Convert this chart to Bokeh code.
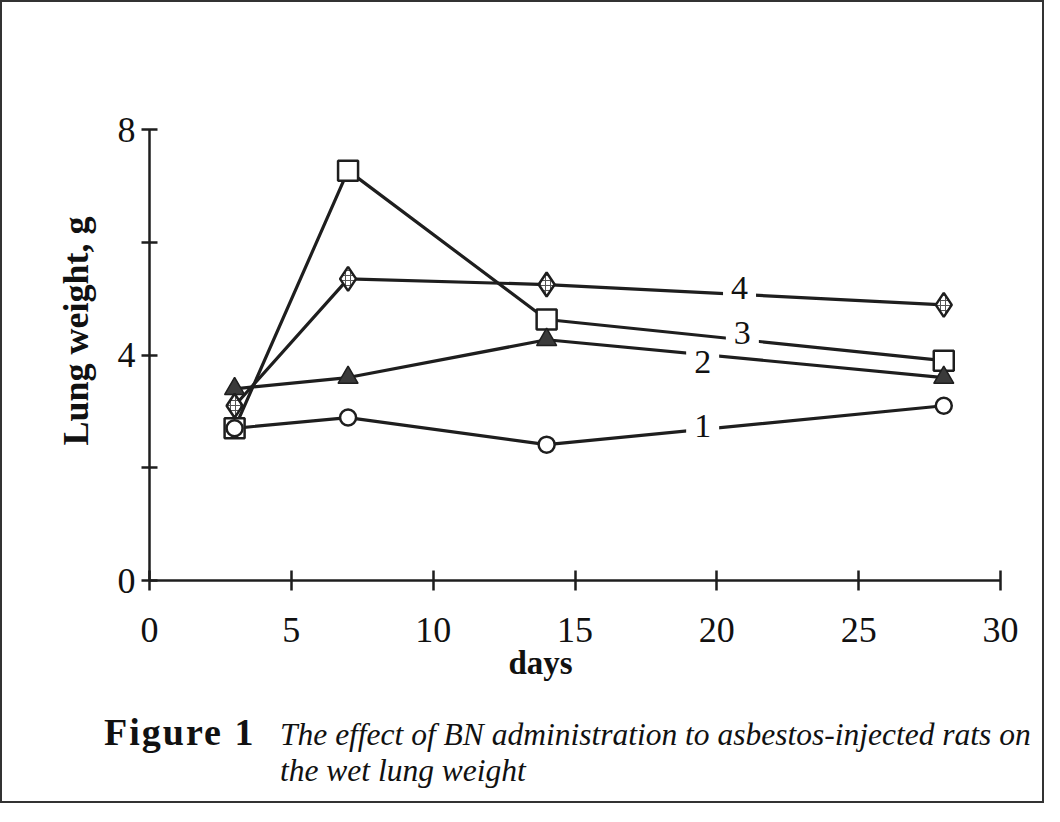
import numpy as np
from bokeh.plotting import figure
from bokeh.models import Range1d, Title, Div
from bokeh.layouts import column
from bokeh.core.properties import value
from bokeh.embed import file_html
from bokeh.resources import INLINE

# ---- data ----
days = [3, 7, 14, 28]
s1_circle = [2.70, 2.89, 2.41, 3.10]
s2_triangle = [3.40, 3.60, 4.27, 3.60]
s3_square = [2.70, 7.27, 4.63, 3.90]
s4_diamond = [3.10, 5.35, 5.25, 4.89]
series_names = ["1", "2", "3", "4"]
label_days = [19.5, 19.5, 20.9, 20.8]
label_nudge_px = [-3, 7, -7, -6]

x_ticks = [0, 5, 10, 15, 20, 25, 30]
y_ticks = [0, 2, 4, 6, 8]
y_tick_labels = {0: "0", 2: "", 4: "4", 6: "", 8: "8"}

x_title = "days"
y_title = "Lung weight, g"
caption_head = "Figure 1"
caption_lines = ["The effect of BN administration to asbestos-injected rats on",
                 "the wet lung weight"]

SERIF = "Liberation Serif"
INK = "#1e1e1e"

p = figure(width=1040, height=703, x_range=Range1d(0, 30), y_range=Range1d(0, 8),
           output_backend="svg", toolbar_location=None,
           min_border_left=147, min_border_right=42, min_border_top=127, min_border_bottom=125)
p.grid.visible = False
p.outline_line_color = None
p.background_fill_color = "white"
p.border_fill_color = "white"

for ax in (p.xaxis, p.yaxis):
    ax.axis_line_width = 2.5
    ax.axis_line_color = INK
    ax.major_tick_line_width = 2.5
    ax.major_tick_line_color = INK
    ax.minor_tick_line_color = None
    ax.major_label_text_font = SERIF
    ax.major_label_text_font_size = "36px"
    ax.major_label_text_color = "#111"

p.xaxis.ticker = x_ticks
p.xaxis.major_tick_in = 10
p.xaxis.major_tick_out = 10
p.xaxis.major_label_standoff = 27

p.yaxis.ticker = y_ticks
p.yaxis.major_label_overrides = y_tick_labels
p.yaxis.major_tick_in = 8
p.yaxis.major_tick_out = 8
p.yaxis.major_label_standoff = 6

all_series = [s1_circle, s2_triangle, s3_square, s4_diamond]
for ys in all_series:
    p.line(days, ys, line_color=INK, line_width=3.2)

# numbered labels breaking the lines
lx, ly, lt = [], [], []
for name, d, ys in zip(series_names, label_days, all_series):
    lx.append(d)
    ly.append(float(np.interp(d, days, ys)))
    lt.append(name)
p.text(x=lx, y=ly, text=lt, y_offset=label_nudge_px, text_font=value(SERIF),
       text_font_size="34px", text_align="center", text_baseline="middle", text_color="#111",
       background_fill_color="white", padding=8)

p.scatter(days, s3_square, marker="square", size=20, fill_color="white",
          line_color=INK, line_width=2.5)
p.scatter(days, s1_circle, marker="circle", size=16, fill_color="white",
          line_color=INK, line_width=2.5)
p.scatter(days, s2_triangle, marker="triangle", size=20, fill_color="#3a3a3a",
          line_color=INK, line_width=1.5)
p.scatter(days, s4_diamond, marker="diamond", size=24, fill_color="white",
          line_color=INK, line_width=2.5, hatch_pattern="cross", hatch_scale=5,
          hatch_color="#555", hatch_weight=1)

# axis titles as plot titles placed beside the axes
tx = Title(text=x_title, align="left", offset=359, vertical_align="top",
           text_font=SERIF, text_font_style="bold", text_font_size="33px", text_color="#111")
tx.standoff = 0
p.add_layout(tx, "below")

ty = Title(text=y_title, align="left", offset=135, vertical_align="bottom", standoff=38,
           text_font=SERIF, text_font_style="bold", text_font_size="36px", text_color="#111")
p.add_layout(ty, "left")

# caption
cap_html = (
    '<div style="position:relative;width:1040px;height:96px;font-family:\'Liberation Serif\',serif;color:#111;">'
    '<span style="position:absolute;left:102px;top:9px;font-weight:bold;font-size:38px;'
    'line-height:36px;letter-spacing:2px;white-space:nowrap;">' + caption_head + '</span>'
    '<span style="position:absolute;left:278px;top:12px;font-style:italic;font-size:31.5px;'
    'line-height:36px;white-space:nowrap;">' + caption_lines[0] + '<br>' + caption_lines[1] + '</span>'
    '</div>'
)
cap = Div(text=cap_html, width=1040, height=96, margin=0)

layout = column(p, cap, spacing=0, styles={"border": "2px solid #333", "background-color": "white"})

open("out.html", "w").write(file_html(layout, INLINE))
